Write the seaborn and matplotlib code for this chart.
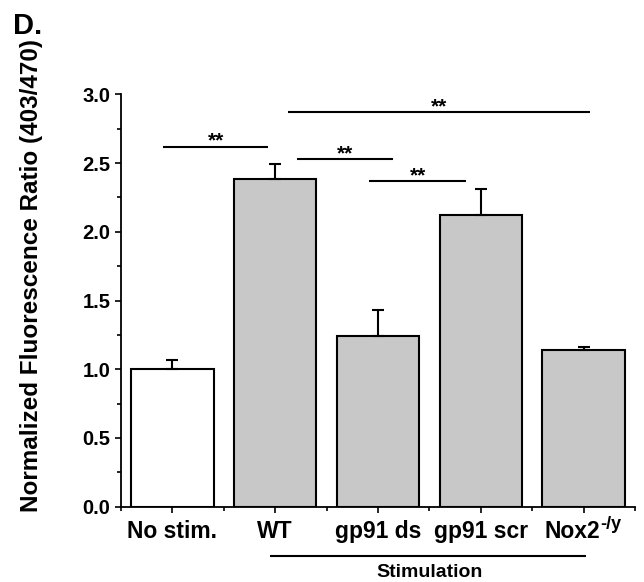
import matplotlib
matplotlib.use("Agg")
import matplotlib.pyplot as plt
import matplotlib.transforms as mtransforms
from matplotlib.ticker import MultipleLocator, FixedLocator
import seaborn as sns
import pandas as pd

# Group names, means and upper SEM
groups = ["No stim.", "WT", "gp91 ds", "gp91 scr", "Nox2-/y"]
tick_labels = ["No stim.", "WT", "gp91 ds", "gp91 scr", "Nox2"]
means = [1.00, 2.385, 1.24, 2.12, 1.14]
sem = [0.07, 0.105, 0.19, 0.19, 0.025]
bar_colors = ["#ffffff", "#c8c8c8", "#c8c8c8", "#c8c8c8", "#c8c8c8"]

# Pairwise comparisons: (bracket start, bracket end, bracket height, label)
comparisons = [
    (-0.09, 0.93, 2.62, "**"),
    (1.21, 2.15, 2.53, "**"),
    (1.91, 2.86, 2.37, "**"),
    (1.12, 4.06, 2.87, "**"),
]

sns.set_style("ticks")
plt.rcParams["font.family"] = ["Liberation Sans", "DejaVu Sans"]
plt.rcParams["font.weight"] = "bold"
for key in ("text.color", "axes.labelcolor", "xtick.color", "ytick.color", "axes.edgecolor"):
    plt.rcParams[key] = "black"

df = pd.DataFrame({"group": groups, "ratio": means})

fig = plt.figure(figsize=(6.44, 5.82), dpi=100)
ax = fig.add_axes([121 / 644, 1 - 506.7 / 582, (635 - 121) / 644, (506.7 - 94.3) / 582])

sns.barplot(data=df, x="group", y="ratio", hue="group", order=groups,
            palette=dict(zip(groups, bar_colors)), legend=False,
            edgecolor="black", linewidth=1.5, width=0.8, ax=ax, zorder=2)

# upper error bars only
ax.errorbar(range(len(groups)), means, yerr=[[0] * len(sem), sem], fmt="none",
            ecolor="black", elinewidth=1.5, capsize=4, capthick=1.5, zorder=3)

ax.set_xlim(-0.5, 4.5)
ax.set_ylim(0, 3.0)
ax.yaxis.set_major_locator(MultipleLocator(0.5))
ax.yaxis.set_minor_locator(MultipleLocator(0.25))
ax.xaxis.set_minor_locator(FixedLocator([-0.5, 0.5, 1.5, 2.5, 3.5, 4.5]))
ax.set_xticks(range(len(groups)))
ax.set_xticklabels(tick_labels, fontsize=16.5, fontweight="bold")
ax.set_yticks([0, 0.5, 1.0, 1.5, 2.0, 2.5, 3.0])
ax.set_yticklabels([f"{v:.1f}" for v in ax.get_yticks()], fontsize=14.5, fontweight="bold")

ax.tick_params(axis="both", which="major", direction="out", length=4.5, width=1.2)
ax.tick_params(axis="both", which="minor", direction="out", length=3, width=1.2)
ax.tick_params(axis="x", which="major", pad=5)
ax.tick_params(axis="y", which="major", pad=3)
sns.despine(ax=ax)
for side in ("left", "bottom"):
    ax.spines[side].set_linewidth(1.3)

# superscript on the knockout label, whole label kept centred on its tick
ko_label = ax.get_xticklabels()[-1]
ko_label.set_transform(ko_label.get_transform()
                       + mtransforms.ScaledTranslation(-11 / 100, 0, fig.dpi_scale_trans))
ax.annotate("-/y", xy=(0.99, 0.42), xycoords=ko_label, ha="left", va="bottom",
            fontsize=13, fontweight="bold", annotation_clip=False)

ax.set_xlabel("")
ax.set_ylabel("Normalized Fluorescence Ratio (403/470)", fontsize=17.5, fontweight="bold")
ax.yaxis.set_label_coords(-0.152, 0.56)

# significance brackets
for x0, x1, h, label in comparisons:
    ax.plot([x0, x1], [h, h], color="black", lw=1.5, solid_capstyle="butt", clip_on=False)
    ax.text((x0 + x1) / 2, h, label, ha="center", va="baseline",
            fontsize=15, fontweight="bold")

# stimulated groups underline
trans = mtransforms.blended_transform_factory(ax.transData, ax.transAxes)
ax.plot([0.95, 4.02], [-0.1195, -0.1195], color="black", lw=1.5, transform=trans,
        clip_on=False, solid_capstyle="butt")
ax.text(2.5, -0.1705, "Stimulation", transform=trans, ha="center", va="baseline",
        fontsize=14, fontweight="bold")

fig.text(13 / 644, 1 - 12 / 582, "D.", ha="left", va="top", fontsize=21, fontweight="bold")

fig.savefig("out.png", dpi=100, facecolor="white")
